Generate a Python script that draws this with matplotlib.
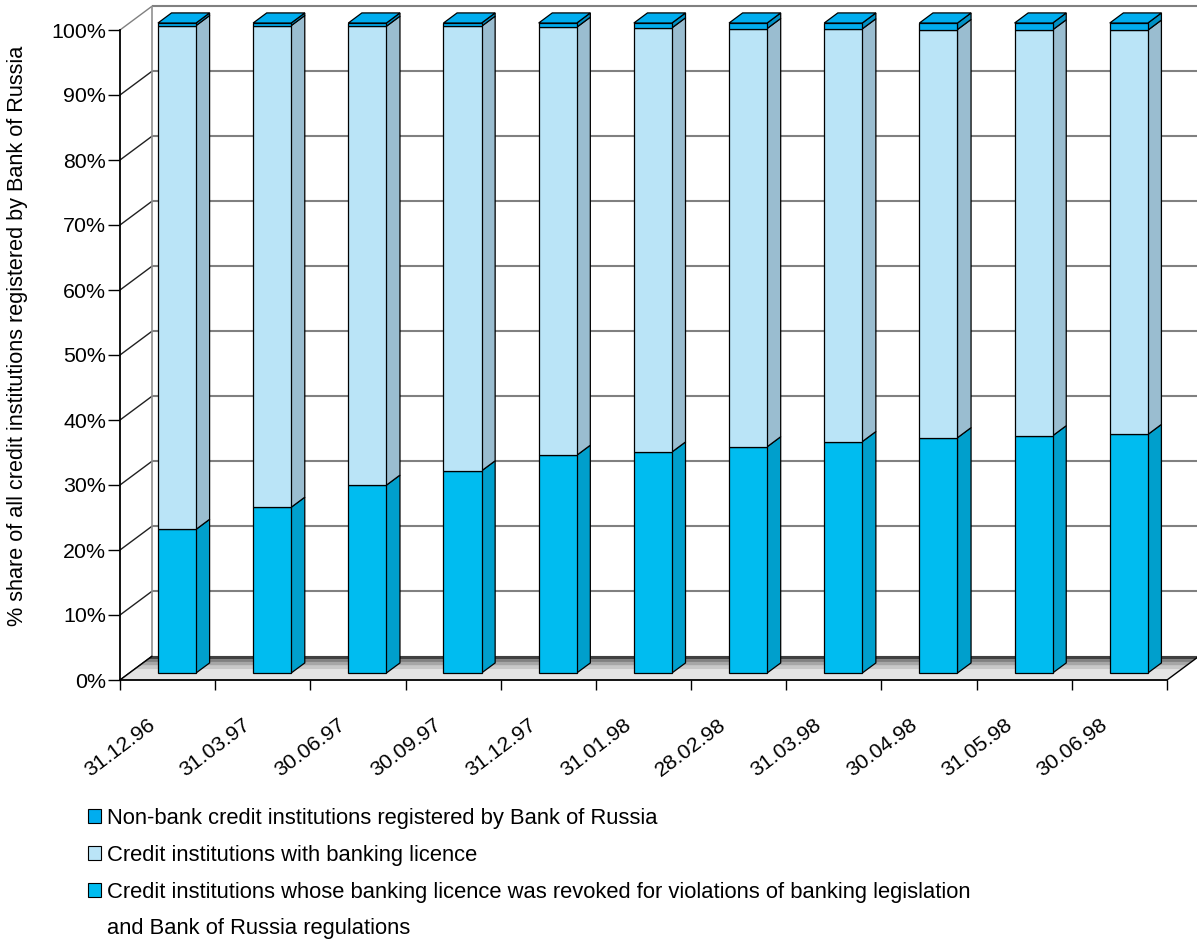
import numpy as np
import matplotlib.pyplot as plt
from matplotlib.patches import Polygon, Patch

plt.rcParams['font.family'] = ['Liberation Sans', 'DejaVu Sans']

# reporting dates
dates = ["31.12.96", "31.03.97", "30.06.97", "30.09.97", "31.12.97", "31.01.98",
         "28.02.98", "31.03.98", "30.04.98", "31.05.98", "30.06.98"]

# % of all registered credit institutions
revoked = [22.1, 25.5, 28.9, 31.1, 33.5, 34.0, 34.8, 35.6, 36.2, 36.5, 36.7]
licensed = [77.5, 74.1, 70.6, 68.4, 65.85, 65.25, 64.35, 63.5, 62.8, 62.45, 62.2]
non_bank = [0.4, 0.4, 0.5, 0.5, 0.65, 0.75, 0.85, 0.9, 1.0, 1.05, 1.1]

labels = ["Non-bank credit institutions registered by Bank of Russia",
          "Credit institutions with banking licence",
          "Credit institutions whose banking licence was revoked for violations of banking legislation",
          "and Bank of Russia regulations"]

# (front colour, side colour) per series
col_revoked = ("#00BCF0", "#009FCC")
col_licensed = ("#BAE4F7", "#9ABDD0")
col_nonbank = ("#00ADEF", "#0090C4")

# fake 3d: offset of the back plane in data units
DX, DY = 0.34, 3.7
BAR_D0, BAR_D1 = 0.29, 0.71
BAR_W = 0.4


def proj(x, y, d):
    return (x + d * DX, y + d * DY)


def face(ax, pts, fc, ec="black", lw=0.9, z=3):
    poly = Polygon([proj(*p) for p in pts], closed=True, fc=fc, ec=ec, lw=lw,
                   zorder=z, clip_on=False, joinstyle="miter")
    ax.add_patch(poly)


def line3d(ax, p0, p1, color, lw=1.0, z=1):
    a, b = proj(*p0), proj(*p1)
    ax.plot([a[0], b[0]], [a[1], b[1]], color=color, lw=lw, zorder=z,
            clip_on=False, solid_capstyle="butt")


fig = plt.figure(figsize=(11.97, 9.40), dpi=100)
ax = fig.add_axes([120 / 1197, (940 - 680) / 940, 1047 / 1197, 650 / 940])
n = len(dates)
ax.set_xlim(0, n)
ax.set_ylim(0, 100)

# back wall grid + side wall diagonals
yt = np.arange(0, 101, 10)
for y in yt[1:]:
    line3d(ax, (0, y, 1), (n, y, 1), "#808080", lw=1.5)
for y in yt:
    line3d(ax, (0, y, 0), (0, y, 1), "#808080" if y == 100 else "#202020", lw=1.0)
line3d(ax, (0, 0, 1), (0, 100, 1), "#909090", lw=1.2)

# floor slab, darker towards the back
bands = [(0.0, 0.45, "#e4e4e4"), (0.45, 0.6, "#c8c8c8"), (0.6, 0.75, "#a6a6a6"),
         (0.75, 0.87, "#808080"), (0.87, 1.0, "#404040")]
for da, db, c in bands:
    face(ax, [(0, 0, da), (n, 0, da), (n, 0, db), (0, 0, db)], c, ec="none", lw=0, z=2)
line3d(ax, (0, 0, 0), (0, 0, 1), "black", lw=1.0, z=2.5)
line3d(ax, (n, 0, 0), (n, 0, 1), "black", lw=1.0, z=2.5)

# stacked bars
for i in range(n):
    x0 = i + 0.5 - BAR_W / 2
    x1 = x0 + BAR_W
    bottom = 0
    stack = [(revoked[i], col_revoked), (licensed[i], col_licensed), (non_bank[i], col_nonbank)]
    for k, (h, (fc, sc)) in enumerate(stack):
        top = bottom + h
        face(ax, [(x1, bottom, BAR_D0), (x1, bottom, BAR_D1), (x1, top, BAR_D1), (x1, top, BAR_D0)], sc)
        face(ax, [(x0, bottom, BAR_D0), (x1, bottom, BAR_D0), (x1, top, BAR_D0), (x0, top, BAR_D0)], fc)
        if k == len(stack) - 1:
            face(ax, [(x0, top, BAR_D0), (x1, top, BAR_D0), (x1, top, BAR_D1), (x0, top, BAR_D1)], fc)
        bottom = top

# axes
for s in ("top", "right"):
    ax.spines[s].set_visible(False)
for s in ("left", "bottom"):
    ax.spines[s].set_linewidth(1.3)
    ax.spines[s].set_zorder(5)
ax.set_yticks(yt)
ax.set_yticklabels([f"{v}%" for v in yt])
ax.tick_params(axis="y", direction="out", length=8.5, width=1, pad=1.5, labelsize=15.4)
ax.set_xticks(np.arange(n + 1))
ax.set_xticklabels(dates + [""], rotation=37, ha="center", va="top")
ax.tick_params(axis="x", direction="out", length=7.5, width=1, pad=18, labelsize=15.3)
ax.set_ylabel("% share of all credit institutions registered by Bank of Russia", fontsize=15.6)
ax.yaxis.set_label_coords(-0.088, 0.53)

handles = [Patch(fc=col_nonbank[0], ec="black", lw=0.8),
           Patch(fc=col_licensed[0], ec="black", lw=0.8),
           Patch(fc=col_revoked[0], ec="black", lw=0.8),
           Patch(fc="none", ec="none")]
fig.legend(handles, labels, loc="upper left", bbox_to_anchor=(88 / 1197, 1 - 808 / 940),
           frameon=False, fontsize=15.8, handlelength=0.6, handleheight=0.6,
           handletextpad=0.25, labelspacing=0.72, borderpad=0, borderaxespad=0)

fig.savefig("out.png", dpi=100, facecolor="white")
